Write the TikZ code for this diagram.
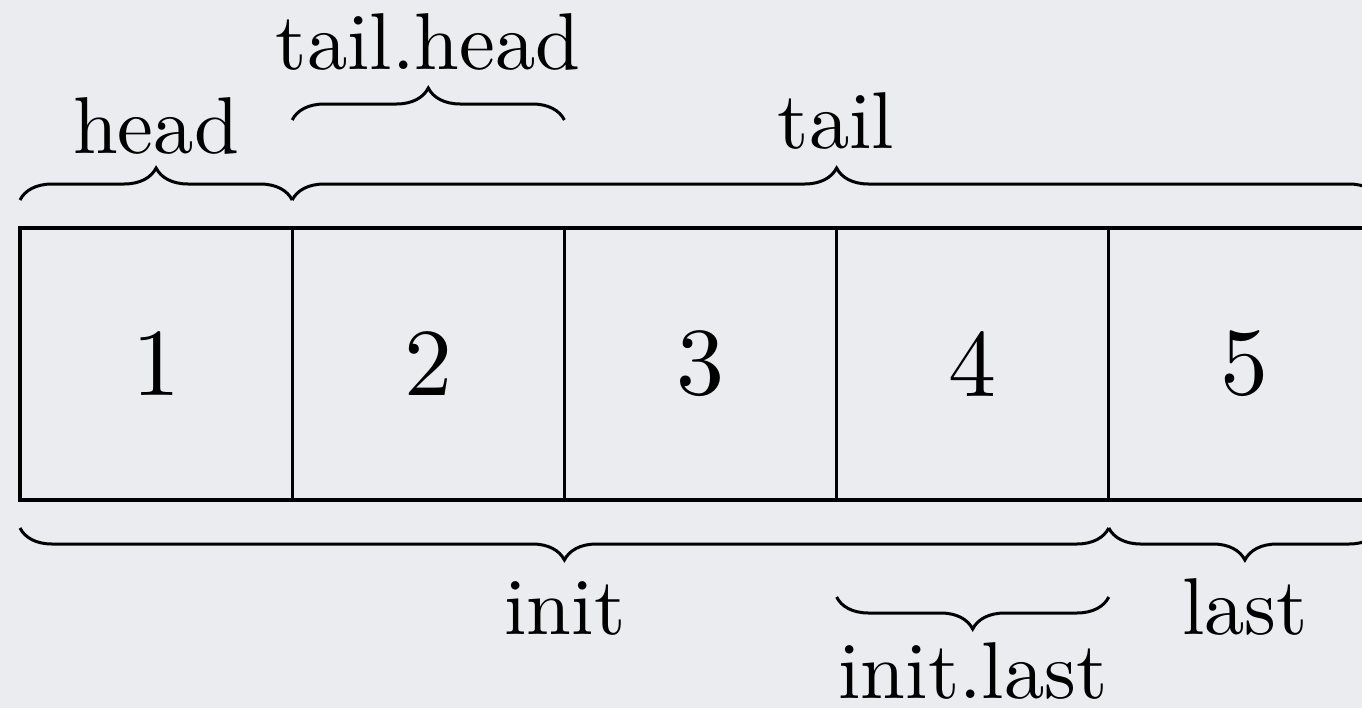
\documentclass[tikz,border=0pt]{standalone}
\usepackage{graphicx}
\usetikzlibrary{decorations.pathreplacing,calc}
\definecolor{bgc}{RGB}{235,236,239}
\newcommand{\bigtxt}[2]{\scalebox{#1}{\fontsize{10}{12}\selectfont #2}}
\begin{document}
\begin{tikzpicture}[x=0.5pt,y=-0.5pt,
  cell/.style={draw=black,line width=1.6pt,minimum width=136.1pt,minimum height=136pt,inner sep=0pt,outer sep=0pt},
  brace/.style={draw=black,line width=1.5pt,decorate,decoration={brace,amplitude=16pt}},
  lbl/.style={anchor=base,inner sep=0pt}]
\useasboundingbox (0,0) rectangle (1362,708);
\clip (0,0) rectangle (1362,708);
\fill[bgc] (0,0) rectangle (1362,708);
\node[cell] (c1) at (156.1,364) {\bigtxt{4.8}{1}};
\node[cell] (c2) at (428.3,364) {\bigtxt{4.8}{2}};
\node[cell] (c3) at (700.5,364) {\bigtxt{4.8}{3}};
\node[cell] (c4) at (972.7,364) {\bigtxt{4.8}{4}};
\node[cell] (c5) at (1244.9,364) {\bigtxt{4.8}{5}};
% top braces
\draw[brace] ([yshift=14pt]c1.north west) -- ([yshift=14pt]c1.north east);
\draw[brace] ([yshift=14pt]c2.north west) -- ([yshift=14pt]c5.north east);
\draw[brace] ([yshift=54pt]c2.north west) -- ([yshift=54pt]c2.north east);
% bottom braces
\draw[brace] ([yshift=-14pt]c4.south east) -- ([yshift=-14pt]c1.south west);
\draw[brace] ([yshift=-14pt]c5.south east) -- ([yshift=-14pt]c5.south west);
\draw[brace] ([yshift=-48.5pt]c4.south east) -- ([yshift=-48.5pt]c4.south west);
% labels
\node[lbl] (lhead) at (156,153) {\bigtxt{4.03}{head}};
\node[lbl] (ltail) at (836,148) {\bigtxt{4.03}{tail}};
\node[lbl] (ltailhead) at (428,69) {\bigtxt{4.03}{tail.head}};
\node[lbl] (linit) at (565,634) {\bigtxt{4.03}{init}};
\node[lbl] (llast) at (1245,634) {\bigtxt{4.03}{last}};
\node[lbl] (linitlast) at (973,698) {\bigtxt{4.03}{init.last}};
\end{tikzpicture}
\end{document}
